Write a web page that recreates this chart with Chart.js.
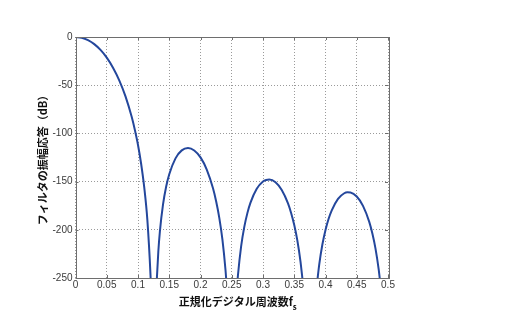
<!DOCTYPE html>
<html>
<head>
<meta charset="utf-8">
<script src="https://cdn.jsdelivr.net/npm/chart.js@4/dist/chart.umd.min.js"></script>
<style>
html,body{margin:0;padding:0;background:#fff;}
#wrap{position:relative;width:516px;height:322px;}
</style>
</head>
<body>
<div id="wrap"><canvas id="c" width="516" height="322"></canvas></div>
<script>
// Normalized frequency (x) and magnitude in dB (y), one lobe per pair
const lobe1Freq = [0, 0.01, 0.02, 0.03, 0.04, 0.05, 0.06, 0.07, 0.08, 0.09, 0.095, 0.1, 0.105, 0.11, 0.115, 0.12, 0.1205];
const lobe1Db   = [0, -0.8, -3.3, -7.4, -13.4, -21.4, -31.8, -44.9, -61.6, -83.1, -96.5, -112, -131.5, -156.1, -190, -246.8, -255.3];
const lobe2Freq = [0.1297, 0.13, 0.1325, 0.135, 0.14, 0.145, 0.15, 0.16, 0.17, 0.18, 0.19, 0.2, 0.21, 0.22, 0.225, 0.23, 0.235, 0.24, 0.2415];
const lobe2Db   = [-257.3, -252.7, -222.7, -201.9, -173.9, -155.4, -142.4, -125.9, -117.6, -115.2, -117.7, -124.9, -137.5, -157, -170.4, -187.3, -209.7, -241.7, -254.6];
const lobe3Freq = [0.2585, 0.26, 0.265, 0.27, 0.275, 0.28, 0.29, 0.3, 0.305, 0.31, 0.32, 0.33, 0.34, 0.345, 0.35, 0.355, 0.36, 0.3635];
const lobe3Db   = [-258.8, -246.6, -217.1, -197.2, -182.7, -171.8, -157.4, -149.9, -148.3, -147.9, -150.7, -158.7, -172.6, -182.5, -195.1, -211.2, -232.9, -253.3];
const lobe4Freq = [0.3868, 0.39, 0.395, 0.4, 0.405, 0.41, 0.42, 0.43, 0.435, 0.44, 0.45, 0.46, 0.47, 0.475, 0.48, 0.485, 0.4875];
const lobe4Db   = [-253.7, -235.9, -215.3, -200.2, -188.6, -179.8, -167.9, -162.1, -161.1, -161.3, -165.5, -175.2, -191.8, -203.9, -219.5, -240.6, -254.3];

const xTickLabels = ['0', '0.05', '0.1', '0.15', '0.2', '0.25', '0.3', '0.35', '0.4', '0.45', '0.5'];
const yTickLabels = ['-250', '-200', '-150', '-100', '-50', '0'];
const xAxisTitle = '正規化デジタル周波数f';
const xAxisTitleSub = 's';
const yAxisTitle = 'フィルタの振幅応答（dB）';

const lobes = [[lobe1Freq, lobe1Db], [lobe2Freq, lobe2Db], [lobe3Freq, lobe3Db], [lobe4Freq, lobe4Db]];
const points = [];
lobes.forEach((l, i) => {
  if (i > 0) points.push({x: (l[0][0] + points[points.length-1].x) / 2, y: null});
  l[0].forEach((f, j) => points.push({x: f, y: l[1][j]}));
});

const LINE = '#24479c';
const GRID = '#9a9a9a';
const BOX = '#6e6e6e';
const TXT = '#3a3a3a';

const boxPlugin = {
  id: 'box',
  afterDraw(chart) {
    const ctx = chart.ctx, a = chart.chartArea;
    const xs = chart.scales.x, ys = chart.scales.y;
    ctx.save();
    ctx.strokeStyle = BOX;
    ctx.lineWidth = 1;
    ctx.setLineDash([]);
    ctx.strokeRect(Math.round(a.left) + 0.5, Math.round(a.top) + 0.5, Math.round(a.right - a.left), Math.round(a.bottom - a.top));
    ctx.beginPath();
    xs.ticks.forEach(t => {
      const px = Math.round(xs.getPixelForValue(t.value)) + 0.5;
      ctx.moveTo(px, a.bottom); ctx.lineTo(px, a.bottom - 3);
      ctx.moveTo(px, a.top); ctx.lineTo(px, a.top + 3);
    });
    ys.ticks.forEach(t => {
      const py = Math.round(ys.getPixelForValue(t.value)) + 0.5;
      ctx.moveTo(a.left, py); ctx.lineTo(a.left + 3, py);
      ctx.moveTo(a.right, py); ctx.lineTo(a.right - 3, py);
    });
    ctx.stroke();
    // axis titles
    ctx.fillStyle = '#111';
    ctx.font = 'bold 11px "Noto Sans CJK JP"';
    ctx.textBaseline = 'middle';
    const mainW = ctx.measureText(xAxisTitle).width;
    ctx.font = 'bold 8px "Noto Sans CJK JP"';
    const subW = ctx.measureText(xAxisTitleSub).width;
    const cx = (a.left + a.right) / 2 + 6;
    const startX = cx - (mainW + subW) / 2;
    ctx.font = 'bold 11px "Noto Sans CJK JP"';
    ctx.textAlign = 'left';
    ctx.fillText(xAxisTitle, startX, 302);
    ctx.font = 'bold 8px "Noto Sans CJK JP"';
    ctx.fillText(xAxisTitleSub, startX + mainW, 307);
    ctx.save();
    ctx.translate(43, (a.top + a.bottom) / 2);
    ctx.rotate(-Math.PI / 2);
    ctx.font = 'bold 11px "Noto Sans CJK JP"';
    ctx.textAlign = 'center';
    ctx.fillText(yAxisTitle, 0, 0);
    ctx.restore();
    ctx.restore();
  }
};

new Chart(document.getElementById('c'), {
  type: 'line',
  data: {
    datasets: [{
      data: points,
      borderColor: LINE,
      borderWidth: 2,
      pointRadius: 0,
      fill: false,
      spanGaps: false,
      cubicInterpolationMode: 'monotone'
    }]
  },
  options: {
    responsive: false,
    animation: false,
    devicePixelRatio: 1,
    layout: {padding: {left: 0, right: 128, top: 37, bottom: 0}},
    plugins: {legend: {display: false}, tooltip: {enabled: false}},
    scales: {
      x: {
        type: 'linear', min: 0, max: 0.5,
        afterFit(s) { s.height = 44; },
        ticks: {
          stepSize: 0.05, autoSkip: false, maxRotation: 0, padding: 1,
          color: TXT, font: {family: 'Liberation Sans', size: 10},
          callback: (v, i) => xTickLabels[i]
        },
        grid: {color: GRID, lineWidth: 1, drawTicks: false, tickLength: 0},
        border: {display: false, dash: [1, 2]}
      },
      y: {
        type: 'linear', min: -250, max: 0,
        afterFit(s) { s.width = 75.5; },
        ticks: {
          stepSize: 50, autoSkip: false, padding: 3,
          color: TXT, font: {family: 'Liberation Sans', size: 10},
          callback: (v, i) => yTickLabels[i]
        },
        grid: {color: GRID, lineWidth: 1, drawTicks: false, tickLength: 0},
        border: {display: false, dash: [1, 2]}
      }
    }
  },
  plugins: [boxPlugin]
});
</script>
</body>
</html>
